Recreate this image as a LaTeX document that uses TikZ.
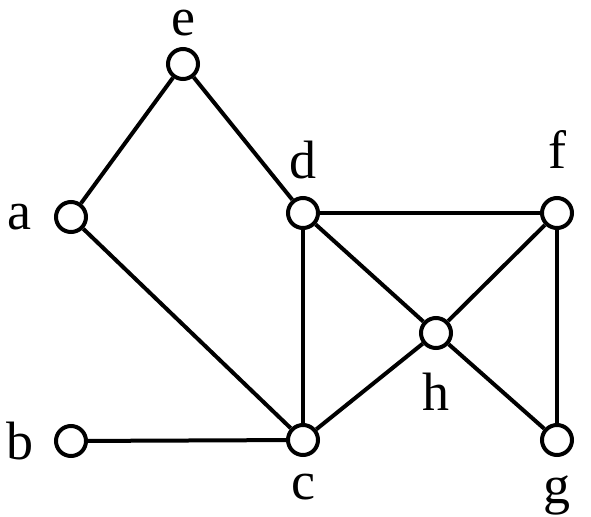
\documentclass[tikz,border=0pt]{standalone}
\usepackage{fontspec}
\setmainfont{Liberation Serif}
\usetikzlibrary{positioning}

\begin{document}
\begin{tikzpicture}[x=0.5pt, y=-0.5pt,
    vertex/.style={draw, circle, line width=2pt, minimum size=15pt, inner sep=0pt, fill=white},
    lab/.style={inner sep=0pt, font=\fontsize{27}{29}\selectfont},
    edge/.style={line width=2pt}]
  \useasboundingbox (0,0) rectangle (591,516);

  % Vertices (posiciones fijas)
  \node[vertex, label={[lab, label distance=5.5pt]above:e}] (e) at (183,64) {};
  \node[vertex, label={[lab, label distance=11pt]left:a}] (a) at (71,217) {};
  \node[vertex, label={[lab, label distance=8.5pt]above:d}] (d) at (303,213) {};
  \node[vertex, label={[lab, label distance=13.5pt]above:f}] (f) at (557,213) {};
  \node[vertex, label={[lab, label distance=11.5pt]below:h}] (h) at (436,333) {};
  \node[vertex, label={[lab, label distance=10pt]left:b}] (b) at (71,441) {};
  \node[vertex, label={[lab, label distance=8.5pt]below:c}] (c) at (303,440) {};
  \node[vertex, label={[lab, label distance=9pt]below:g}] (g) at (557,440) {};

  % Aristas
  \draw[edge] (a) -- (e);
  \draw[edge] (e) -- (d);
  \draw[edge] (a) -- (c);
  \draw[edge] (b) -- (c);
  \draw[edge] (d) -- (c);
  \draw[edge] (d) -- (f);
  \draw[edge] (d) -- (h);
  \draw[edge] (f) -- (h);
  \draw[edge] (h) -- (c);
  \draw[edge] (h) -- (g);
  \draw[edge] (f) -- (g);

\end{tikzpicture}
\end{document}
